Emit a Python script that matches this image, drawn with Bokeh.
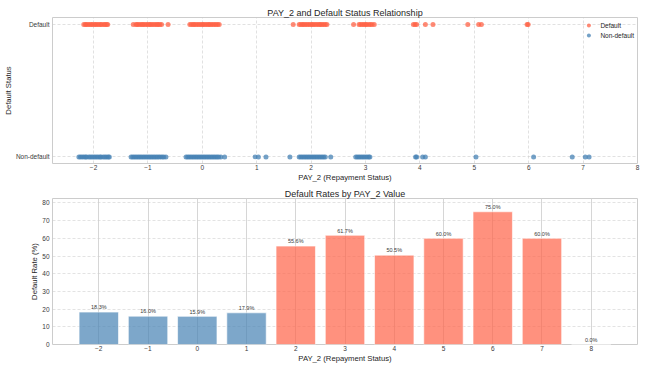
from bokeh.plotting import figure
from bokeh.models import Range1d, FixedTicker
from bokeh.layouts import column
from bokeh.core.properties import value
from bokeh.embed import file_html
from bokeh.resources import INLINE

FONT = "Liberation Sans"

# ---- Top chart: PAY_2 value (jittered) of each client, by default status ----
status_ticks = [0, 1]
status_labels = ["Non-default", "Default"]

default_x = [
    -2.18, -2.15, -2.13, -2.10, -2.07, -2.04, -2.02, -1.98, -1.96, -1.93, -1.90,
    -1.87, -1.85, -1.81, -1.79, -1.76, -1.74,
    -1.27, -1.22, -1.20, -1.17, -1.14, -1.11, -1.09, -1.06, -1.03, -1.00, -0.97,
    -0.95, -0.92, -0.89, -0.86, -0.83, -0.81, -0.78, -0.75, -0.63,
    -0.23, -0.20, -0.17, -0.15, -0.12, -0.09, -0.06, -0.03, 0.00, 0.02, 0.05,
    0.08, 0.11, 0.13, 0.16, 0.19, 0.22, 0.25, 0.28, 0.31,
    1.67, 1.78, 1.81, 1.84, 1.86, 1.89, 1.92, 1.95, 1.98, 2.01, 2.03, 2.06,
    2.09, 2.12, 2.15, 2.17, 2.20, 2.23, 2.26, 2.29,
    2.78, 2.88, 2.91, 2.94, 2.97, 3.00, 3.02, 3.06, 3.09, 3.12, 3.16,
    3.88, 3.91, 3.94, 4.10, 4.24,
    4.88, 5.08, 5.13,
    5.97, 5.99,
]
nondefault_x = [
    -2.27, -2.24, -2.21, -2.18, -2.15, -2.13, -2.09, -2.06, -2.03, -2.00, -1.97,
    -1.94, -1.91, -1.88, -1.86, -1.82, -1.79, -1.76, -1.73, -1.71,
    -1.31, -1.28, -1.25, -1.22, -1.19, -1.16, -1.13, -1.10, -1.07, -1.04, -1.01,
    -0.98, -0.95, -0.92, -0.89, -0.86, -0.83, -0.80, -0.77, -0.74, -0.71, -0.67,
    -0.30, -0.27, -0.24, -0.21, -0.18, -0.15, -0.12, -0.09, -0.06, -0.03, 0.00,
    0.03, 0.06, 0.09, 0.12, 0.15, 0.18, 0.21, 0.24, 0.27, 0.30, 0.34, 0.41,
    0.97, 1.03, 1.17,
    1.61,
    1.78, 1.81, 1.84, 1.87, 1.90, 1.93, 1.96, 1.99, 2.02, 2.05, 2.08, 2.11,
    2.14, 2.17, 2.20, 2.23, 2.26, 2.36,
    2.82, 2.85, 2.88, 2.91, 2.94, 2.97, 3.00, 3.03, 3.06, 3.08,
    3.92, 3.94, 4.05, 4.10,
    5.03, 6.09, 6.80, 7.04, 7.11,
]
top_x_ticks = [-2, -1, 0, 1, 2, 3, 4, 5, 6, 7, 8]

# ---- Bottom chart: default rate by PAY_2 value ----
pay_values = [-2, -1, 0, 1, 2, 3, 4, 5, 6, 7, 8]
default_rates = [18.3, 16.0, 15.9, 17.9, 55.6, 61.7, 50.5, 60.0, 75.0, 60.0, 0.0]
rate_ticks = [0, 10, 20, 30, 40, 50, 60, 70, 80]

BLUE = "#4682b4"
RED = "#ff6347"
TXT = "#262626"
TICK = "#3a3a3a"


def tick_text(v):
    return ("\u2212" + str(-v)) if v < 0 else str(v)


def style(p, xlabel, ylabel, title):
    p.title.text = title
    p.title.align = "center"
    p.title.text_font = FONT
    p.title.text_font_size = "9px"
    p.title.text_font_style = "normal"
    p.title.text_color = TXT
    p.title.standoff = 0
    p.outline_line_color = "#cccccc"
    p.outline_line_width = 1
    p.background_fill_color = "white"
    p.border_fill_color = "white"
    for ax in (p.xaxis[0], p.yaxis[0]):
        ax.axis_line_color = None
        ax.major_tick_line_color = None
        ax.minor_tick_line_color = None
        ax.major_tick_out = 0
        ax.major_tick_in = 0
        ax.major_label_text_font = FONT
        ax.major_label_text_font_size = "6.5px"
        ax.major_label_text_color = TICK
        ax.axis_label_text_font = FONT
        ax.axis_label_text_font_size = "7.7px"
        ax.axis_label_text_font_style = "normal"
        ax.axis_label_text_color = TXT
    p.xaxis[0].axis_label = xlabel
    p.yaxis[0].axis_label = ylabel
    p.xaxis[0].major_label_standoff = 1
    p.xaxis[0].axis_label_standoff = 0
    p.yaxis[0].major_label_standoff = 3
    p.yaxis[0].axis_label_standoff = 0


# ---------------- Top figure ----------------
p1 = figure(width=645, height=184, output_backend="svg", toolbar_location=None,
            x_range=Range1d(-2.755, 8.0), y_range=Range1d(-0.05, 1.053),
            min_border_left=52, min_border_right=8, min_border_top=17,
            min_border_bottom=21)
style(p1, "PAY_2 (Repayment Status)", "Default Status",
      "PAY_2 and Default Status Relationship")
p1.xaxis[0].ticker = FixedTicker(ticks=top_x_ticks)
p1.xaxis[0].major_label_overrides = {v: tick_text(v) for v in top_x_ticks}
p1.yaxis[0].ticker = FixedTicker(ticks=status_ticks)
p1.yaxis[0].major_label_overrides = dict(zip(status_ticks, status_labels))
for g in (p1.xgrid[0], p1.ygrid[0]):
    g.grid_line_color = "#cccccc"
    g.grid_line_alpha = 0.75
    g.grid_line_dash = "3 2"
    g.grid_line_width = 0.8

p1.scatter(x=default_x, y=[1] * len(default_x), size=5, color=RED,
           alpha=0.75, line_color=None, legend_label="Default")
p1.scatter(x=nondefault_x, y=[0] * len(nondefault_x), size=5, color=BLUE,
           alpha=0.75, line_color=None, legend_label="Non-default")
lg = p1.legend[0]
lg.location = "top_right"
lg.border_line_alpha = 0
lg.background_fill_alpha = 0
lg.margin = 0
lg.padding = 3
lg.spacing = 0
lg.glyph_width = 10
lg.glyph_height = 10
lg.label_height = 9
lg.label_standoff = 7
lg.label_text_font = FONT
lg.label_text_font_size = "6.5px"
lg.label_text_color = TXT

# ---------------- Bottom figure ----------------
p2 = figure(width=645, height=184, output_backend="svg", toolbar_location=None,
            x_range=Range1d(-2.94, 8.94), y_range=Range1d(0, 82.5),
            min_border_left=52, min_border_right=8, min_border_top=14,
            min_border_bottom=24)
style(p2, "PAY_2 (Repayment Status)", "Default Rate (%)",
      "Default Rates by PAY_2 Value")
p2.xaxis[0].ticker = FixedTicker(ticks=pay_values)
p2.xaxis[0].major_label_overrides = {v: tick_text(v) for v in pay_values}
p2.yaxis[0].ticker = FixedTicker(ticks=rate_ticks)
p2.xgrid[0].grid_line_color = "#d6d6d6"
p2.xgrid[0].grid_line_width = 1
p2.ygrid[0].grid_line_color = "#cccccc"
p2.ygrid[0].grid_line_alpha = 0.7
p2.ygrid[0].grid_line_dash = "3 2"
p2.ygrid[0].grid_line_width = 0.8

bar_colors = [BLUE if r < 30 else RED for r in default_rates]
p2.vbar(x=pay_values, top=default_rates, width=0.8, fill_color=bar_colors,
        fill_alpha=0.7, line_color="white", line_alpha=0.6, line_width=1)
p2.text(x=pay_values, y=[r + 1 for r in default_rates],
        text=[f"{r:.1f}%" for r in default_rates],
        text_align="center", text_baseline="bottom",
        text_font=value(FONT), text_font_size="5.5px", text_color=TICK)

layout = column(p1, p2, spacing=0)
open("out.html", "w").write(file_html(layout, INLINE))
